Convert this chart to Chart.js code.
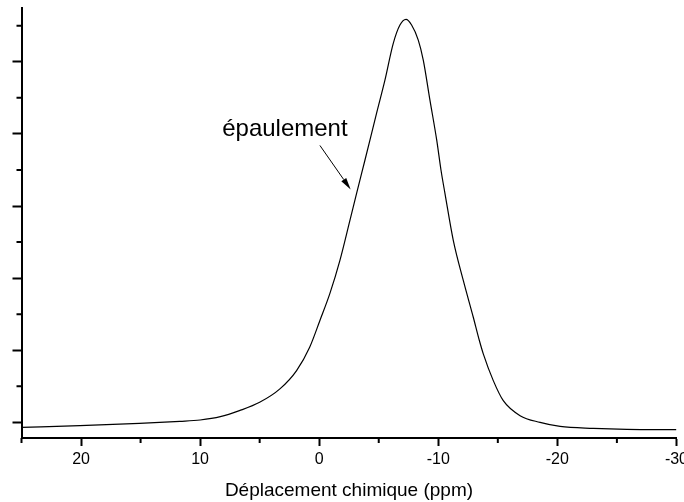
<!DOCTYPE html>
<html>
<head>
<meta charset="utf-8">
<script src="https://cdn.jsdelivr.net/npm/chart.js@4/dist/chart.umd.min.js"></script>
<style>
  html, body { margin: 0; padding: 0; background: #fff; overflow: hidden; }
  #wrap { width: 684px; height: 502px; overflow: hidden; }
</style>
</head>
<body>
<div id="wrap"><canvas id="nmr" width="692" height="502"></canvas></div>
<script>
// chemical shift (ppm) and intensity (arb. units, 1 = one major tick)
var ppm = [25, 20.1, 15.1, 11.7, 10.0, 8.3, 6.7, 5.0, 3.3, 1.9, 0.8, -0.06, -0.9, -1.74,
    -2.58, -3.14, -3.84, -4.26, -4.82, -5.52, -6.22, -6.78, -7.29, -7.76, -8.32, -8.74,
    -9.3, -9.87, -10.23, -10.56, -11.26, -12.1, -12.94, -13.45, -13.78, -14.62, -15.46,
    -16.87, -18.55, -20.23, -23.03, -25.83, -30];
var intensity = [-0.069, -0.046, -0.014, 0.014, 0.033, 0.079, 0.163, 0.278, 0.464, 0.718,
    1.042, 1.413, 1.788, 2.246, 2.801, 3.176, 3.635, 3.913, 4.288, 4.746, 5.256, 5.51,
    5.589, 5.51, 5.301, 5.024, 4.468, 3.913, 3.496, 3.176, 2.524, 1.968, 1.458, 1.135,
    0.95, 0.579, 0.301, 0.093, 0.0, -0.056, -0.083, -0.097, -0.101];

var majorX = [20, 10, 0, -10, -20, -30];
var minorX = [25, 15, 5, -5, -15, -25];
var majorY = [0, 1, 2, 3, 4, 5];
var minorY = [0.5, 1.5, 2.5, 3.5, 4.5, 5.5];

var xTitle = 'Déplacement chimique (ppm)';
var noteText = 'épaulement';
var notePos = [2.88, 3.97];
var arrowFrom = [-0.06, 3.84];
var arrowTo = [-2.64, 3.23];

Chart.defaults.font.family = '"Liberation Sans", Arial, sans-serif';
Chart.defaults.color = '#000';

var points = ppm.map(function (p, i) { return {x: p, y: intensity[i]}; });

// short ticks between the labelled ones
var minorTicks = {
    id: 'minorTicks',
    afterDraw: function (chart) {
        var c = chart.ctx, xs = chart.scales.x, ys = chart.scales.y;
        c.save();
        c.strokeStyle = '#000';
        c.lineWidth = 2;
        c.beginPath();
        minorX.forEach(function (v) {
            var px = xs.getPixelForValue(v);
            c.moveTo(px, xs.top);
            c.lineTo(px, xs.top + 5);
        });
        minorY.forEach(function (v) {
            var py = ys.getPixelForValue(v);
            c.moveTo(ys.right, py);
            c.lineTo(ys.right - 5, py);
        });
        c.stroke();
        c.restore();
    }
};

// label with arrow pointing at the shoulder
var shoulderNote = {
    id: 'shoulderNote',
    afterDraw: function (chart) {
        var c = chart.ctx, xs = chart.scales.x, ys = chart.scales.y;
        var x0 = xs.getPixelForValue(arrowFrom[0]), y0 = ys.getPixelForValue(arrowFrom[1]);
        var x1 = xs.getPixelForValue(arrowTo[0]), y1 = ys.getPixelForValue(arrowTo[1]);
        c.save();
        c.fillStyle = '#000';
        c.font = '24px "Liberation Sans", Arial, sans-serif';
        c.textAlign = 'center';
        c.textBaseline = 'alphabetic';
        c.fillText(noteText, xs.getPixelForValue(notePos[0]), ys.getPixelForValue(notePos[1]));

        var a = Math.atan2(y1 - y0, x1 - x0);
        var len = 12, half = 3;
        var bx = x1 - len * Math.cos(a), by = y1 - len * Math.sin(a);
        c.strokeStyle = '#000';
        c.lineWidth = 1;
        c.beginPath();
        c.moveTo(x0, y0);
        c.lineTo(bx, by);
        c.stroke();
        c.beginPath();
        c.moveTo(x1, y1);
        c.lineTo(bx + half * Math.sin(a), by - half * Math.cos(a));
        c.lineTo(bx - half * Math.sin(a), by + half * Math.cos(a));
        c.closePath();
        c.fill();
        c.restore();
    }
};

var chart = new Chart(document.getElementById('nmr').getContext('2d'), {
    type: 'scatter',
    data: {
        datasets: [{
            data: points,
            showLine: true,
            borderColor: '#000',
            borderWidth: 1.2,
            pointRadius: 0,
            cubicInterpolationMode: 'monotone'
        }]
    },
    options: {
        responsive: false,
        animation: false,
        layout: {padding: {left: 12.5, right: 0, top: 8, bottom: 0}},
        plugins: {legend: {display: false}, tooltip: {enabled: false}},
        scales: {
            x: {
                type: 'linear',
                reverse: true,
                min: -30,
                max: 25,
                afterBuildTicks: function (s) { s.ticks = majorX.map(function (v) { return {value: v}; }); },
                ticks: {font: {size: 16}, padding: 4, maxRotation: 0},
                grid: {drawOnChartArea: false, tickLength: 8, tickWidth: 2, tickColor: '#000'},
                border: {display: true, width: 2, color: '#000'},
                title: {display: true, text: xTitle, font: {size: 19}, padding: {top: 6, bottom: 0}}
            },
            y: {
                type: 'linear',
                min: -0.2167,
                max: 5.746,
                afterBuildTicks: function (s) { s.ticks = majorY.map(function (v) { return {value: v}; }); },
                ticks: {display: false},
                grid: {drawOnChartArea: false, tickLength: 9, tickWidth: 2, tickColor: '#000'},
                border: {display: true, width: 2, color: '#000'}
            }
        }
    },
    plugins: [minorTicks, shoulderNote]
});
</script>
</body>
</html>
